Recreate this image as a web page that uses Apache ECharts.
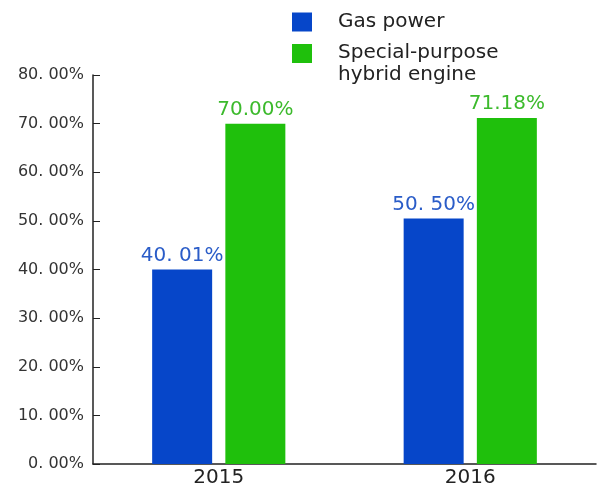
<!DOCTYPE html>
<html>
<head>
<meta charset="utf-8">
<script src="https://cdn.jsdelivr.net/npm/echarts@6/dist/echarts.min.js"></script>
<style>
  html, body { margin: 0; padding: 0; background: #fff; }
  #main { width: 602px; height: 489px; }
</style>
</head>
<body>
<div id="main"></div>
<script>
var years = ['2015', '2016'];
var gasValues = [40.01, 50.50];
var hybridValues = [70.00, 71.18];
var gasLabels = ['40. 01%', '50. 50%'];
var hybridLabels = ['70.00%', '71.18%'];
var yTicks = ['0. 00%', '10. 00%', '20. 00%', '30. 00%', '40. 00%', '50. 00%', '60. 00%', '70. 00%', '80. 00%'];

var BLUE = '#0646c9';
var GREEN = '#1fc00c';
var FONT = 'DejaVu Sans, Liberation Sans, sans-serif';

// legend box shape: square at the top, empty tail so text lines up with first row
var tallIcon = 'path://M0,0H20V19H0Z M0,40L0.01,40L0,40Z';

var chart = echarts.init(document.getElementById('main'));
chart.setOption({
    animation: false,
    textStyle: { fontFamily: FONT },
    legend: [
        {
            orient: 'vertical',
            left: 287,
            top: 7,
            itemWidth: 20,
            itemHeight: 19,
            icon: 'rect',
            selectedMode: false,
            textStyle: { fontSize: 20, color: '#222', padding: [0, 0, 0, 21] },
            data: ['Gas power']
        },
        {
            orient: 'vertical',
            left: 287,
            top: 37,
            itemWidth: 20,
            itemHeight: 42,
            icon: tallIcon,
            selectedMode: false,
            textStyle: { fontSize: 20, color: '#222', lineHeight: 22, padding: [0, 0, 0, 21] },
            formatter: function () { return 'Special-purpose\nhybrid engine'; },
            data: ['Special-purpose hybrid engine']
        }
    ],
    grid: { left: 93, right: 6, top: 75, bottom: 25 },
    xAxis: {
        type: 'category',
        data: years,
        axisLine: { lineStyle: { color: '#222', width: 1.5 } },
        axisTick: { show: false },
        axisLabel: { color: '#222', fontSize: 20, margin: 4 }
    },
    yAxis: {
        type: 'value',
        min: 0,
        max: 80,
        interval: 10,
        axisLine: { show: true, lineStyle: { color: '#222', width: 1.5 } },
        axisTick: { show: true, inside: true, length: 7, lineStyle: { color: '#222' } },
        splitLine: { show: false },
        axisLabel: {
            color: '#333',
            fontSize: 16,
            margin: 9,
            formatter: function (v) { return yTicks[Math.round(v / 10)]; }
        }
    },
    series: [
        {
            name: 'Gas power',
            type: 'bar',
            data: gasValues,
            barWidth: 60,
            barGap: '22%',
            itemStyle: { color: BLUE },
            label: {
                show: true,
                position: 'top',
                distance: 4,
                fontSize: 20,
                color: '#2a5cc8',
                formatter: function (p) { return gasLabels[p.dataIndex]; }
            }
        },
        {
            name: 'Special-purpose hybrid engine',
            type: 'bar',
            data: hybridValues,
            barWidth: 60,
            barGap: '22%',
            itemStyle: { color: GREEN },
            label: {
                show: true,
                position: 'top',
                distance: 4,
                fontSize: 20,
                color: '#3cba2c',
                formatter: function (p) { return hybridLabels[p.dataIndex]; }
            }
        }
    ]
});
</script>
</body>
</html>
